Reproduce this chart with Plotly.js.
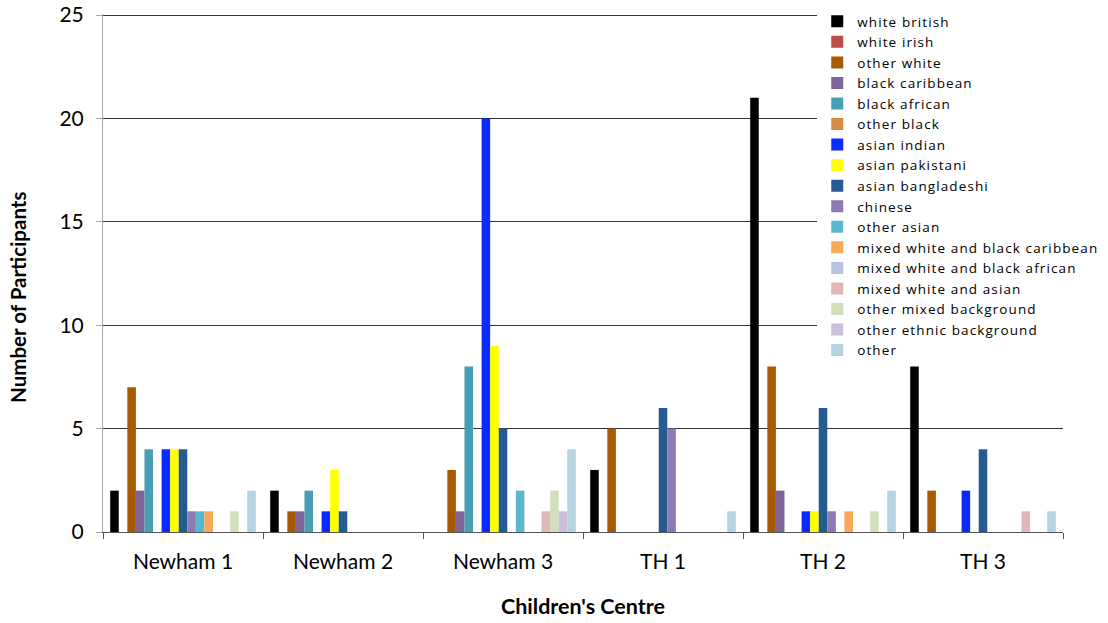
<!DOCTYPE html>
<html>
<head>
<meta charset="utf-8">
<script src="https://cdn.plot.ly/plotly-3.0.1.min.js"></script>
<style>
html,body{margin:0;padding:0;background:#fff;}
#chart{width:1108px;height:623px;}
text.legendtext{letter-spacing:1.1px;}
</style>
</head>
<body>
<div id="chart"></div>
<script>
const centres = ["Newham 1", "Newham 2", "Newham 3", "TH 1", "TH 2", "TH 3"];

const seriesNames = [
  "white british", "white irish", "other white", "black caribbean", "black african",
  "other black", "asian indian", "asian pakistani", "asian bangladeshi", "chinese",
  "other asian", "mixed white and black caribbean", "mixed white and black african",
  "mixed white and asian", "other mixed background", "other ethnic background", "other"
];

const seriesColors = [
  "#000000", "#BE4B48", "#A85A00", "#7D6599", "#4A9EB3",
  "#DA8A45", "#0A2BFF", "#FFFF00", "#245C92", "#8D7AB0",
  "#5AB7CF", "#F9A85A", "#B6C4E0", "#E0B8B8", "#D3DFBB", "#CCBFD8", "#B7D3E1"
];

// values per series, in centre order
const whiteBritish      = [2, 2, 0, 3, 21, 8];
const whiteIrish        = [0, 0, 0, 0, 0, 0];
const otherWhite        = [7, 1, 3, 5, 8, 2];
const blackCaribbean    = [2, 1, 1, 0, 2, 0];
const blackAfrican      = [4, 2, 8, 0, 0, 0];
const otherBlack        = [0, 0, 0, 0, 0, 0];
const asianIndian       = [4, 1, 20, 0, 1, 2];
const asianPakistani    = [4, 3, 9, 0, 1, 0];
const asianBangladeshi  = [4, 1, 5, 6, 6, 4];
const chinese           = [1, 0, 0, 5, 1, 0];
const otherAsian        = [1, 0, 2, 0, 0, 0];
const mixedWBC          = [1, 0, 0, 0, 1, 0];
const mixedWBA          = [0, 0, 0, 0, 0, 0];
const mixedWA           = [0, 0, 1, 0, 0, 1];
const otherMixed        = [1, 0, 2, 0, 1, 0];
const otherEthnic       = [0, 0, 1, 0, 0, 0];
const other             = [2, 0, 4, 1, 2, 1];

const seriesValues = [
  whiteBritish, whiteIrish, otherWhite, blackCaribbean, blackAfrican,
  otherBlack, asianIndian, asianPakistani, asianBangladeshi, chinese,
  otherAsian, mixedWBC, mixedWBA, mixedWA, otherMixed, otherEthnic, other
];

const yTicks = [0, 5, 10, 15, 20, 25];

const FONT = "Lato, 'Open Sans', sans-serif";
const LEGEND_FONT = "'Open Sans', Lato, sans-serif";

const traces = seriesNames.map((name, i) => ({
  type: "bar",
  name: name,
  x: centres,
  y: seriesValues[i],
  marker: {color: seriesColors[i], line: {width: 0}},
  hoverinfo: "x+y+name"
}));

const layout = {
  width: 1108,
  height: 623,
  margin: {l: 103, r: 45, t: 14, b: 91, pad: 0, autoexpand: false},
  paper_bgcolor: "#fff",
  plot_bgcolor: "#fff",
  barmode: "group",
  bargap: 0.09,
  bargroupgap: 0,
  font: {family: FONT, size: 21, color: "#000"},
  xaxis: {
    type: "category",
    tickson: "boundaries",
    ticks: "outside",
    ticklen: 6,
    tickcolor: "#555",
    showline: true,
    linecolor: "#555",
    linewidth: 1,
    showgrid: false,
    ticklabelstandoff: 11,
    tickfont: {family: FONT, size: 21, color: "#000"},
    title: {text: "Children's Centre", font: {family: FONT, size: 21.5, color: "#000", weight: "bold"}, standoff: 26}
  },
  yaxis: {
    range: [0, 25.05],
    tickvals: yTicks,
    ticktext: yTicks.map(String),
    ticks: "outside",
    ticklen: 6,
    tickcolor: "#aaa",
    showline: true,
    linecolor: "#aaa",
    linewidth: 1,
    showgrid: true,
    gridcolor: "#333",
    gridwidth: 1,
    zeroline: false,
    ticklabelstandoff: 8,
    ticklabeloverflow: "allow",
    tickfont: {family: FONT, size: 21, color: "#000"},
    title: {text: ""}
  },
  annotations: [{
    text: "Number of Participants",
    xref: "paper", yref: "paper",
    x: -0.0885, y: 0.452,
    xanchor: "center", yanchor: "middle",
    textangle: -90,
    showarrow: false,
    font: {family: FONT, size: 20.5, color: "#000", weight: "bold"}
  }],
  legend: {
    x: 0.744,
    xanchor: "left",
    y: 1.0154,
    yanchor: "top",
    bgcolor: "#fff",
    borderwidth: 0,
    font: {family: LEGEND_FONT, size: 13.5, color: "#000"},
    tracegroupgap: 0,
    itemwidth: 30,
    maxheight: 615
  },
  showlegend: true
};

Plotly.newPlot("chart", traces, layout, {displayModeBar: false, staticPlot: true});
</script>
</body>
</html>
